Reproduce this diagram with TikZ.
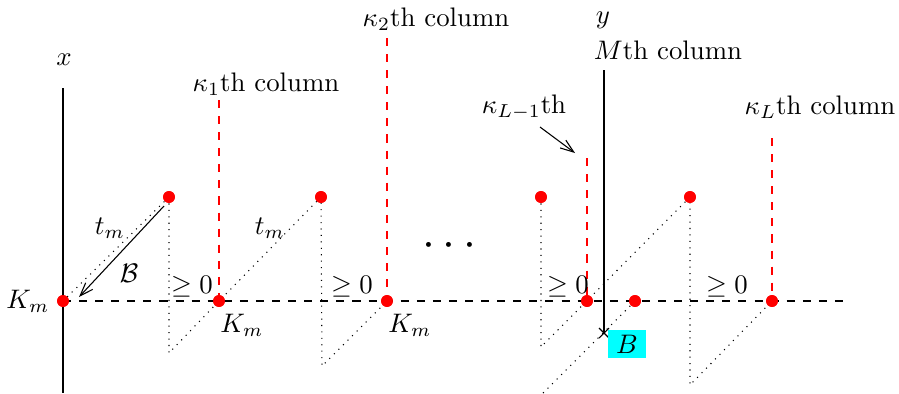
\documentclass[tikz,border=0pt]{standalone}
\usepackage{amsmath}
\usetikzlibrary{arrows.meta}
\definecolor{boxcyan}{RGB}{0,255,255}
\definecolor{dotred}{RGB}{255,0,0}
\begin{document}
\begin{tikzpicture}[x=0.3731pt,y=-0.3731pt,
  reddot/.style={circle,fill=dotred,inner sep=0pt,minimum size=4.4pt},
  lbl/.style={inner sep=0pt},
  colline/.style={dotred,dashed},
  aux/.style={dotted},
  arr/.style={-{Straight Barb[length=5pt,width=3.6pt]}}]
\useasboundingbox (0,0) rectangle (899,393);
% key points
\coordinate (xtop) at (63,88);
\coordinate (xbot) at (63,393);
\coordinate (hend) at (848,301);
\coordinate (Q1) at (169,353);
\coordinate (Q2) at (322,366);
\coordinate (Q3) at (541,347);
\coordinate (Q4) at (690,385);
\coordinate (S) at (543,393);
\coordinate (ytop) at (604,70);
\coordinate (B) at (604,333);
\coordinate (c1) at (219,100);
\coordinate (c2) at (387,38);
\coordinate (c3) at (587,158);
\coordinate (c4) at (772,138);
\coordinate (a1) at (540,127);
\coordinate (a2) at (575,153);
\coordinate (b1) at (164,206);
\coordinate (b2) at (79,297);
% red dots
\node[reddot] (K0) at (63,301) {};
\node[reddot] (K1) at (219,301) {};
\node[reddot] (K2) at (387,301) {};
\node[reddot] (K3) at (587,301) {};
\node[reddot] (K4) at (772,301) {};
\node[reddot] (R) at (635,301) {};
\node[reddot] (P1) at (169,197) {};
\node[reddot] (P2) at (321,197) {};
\node[reddot] (P3) at (541,197) {};
\node[reddot] (P4) at (690,197) {};
% lines
\draw (xtop) -- (xbot);
\draw[dashed] (K0.center) -- (hend);
\draw (ytop) -- (B);
\draw (B) +(-5,-5) -- +(5,5) (B) +(-5,5) -- +(5,-5);
\draw[colline] (c1) -- (K1.center);
\draw[colline] (c2) -- (K2.center);
\draw[colline] (c3) -- (K3.center);
\draw[colline] (c4) -- (K4.center);
\draw[aux] (P1.center) -- (K0.center);
\draw[aux] (P1.center) -- (Q1) -- (K1.center) -- (P2.center) -- (Q2) -- (K2.center);
\draw[aux] (P3.center) -- (Q3) -- (P4.center) -- (Q4) -- (K4.center);
\draw[aux] (S) -- (R.center);
\draw[arr] (b1) -- (b2);
\draw[arr] (a1) -- (a2);
% dots on top of the lines
\foreach \n in {K0,K1,K2,K3,K4,R,P1,P2,P3,P4}
  \fill[dotred] (\n) circle[radius=2.2pt];
% labels
\node[lbl] (lx) at (64,60) {$x$};
\node[lbl] (lK0) at (28,301) {$K_m$};
\node[lbl] (lK1) at (242,325) {$K_m$};
\node[lbl] (lK2) at (410,325) {$K_m$};
\node[lbl] (lc1) at (266,84) {$\kappa_1$th column};
\node[lbl] (lc2) at (436,19) {$\kappa_2$th column};
\node[lbl] (lc3) at (524,107) {$\kappa_{L-1}$th};
\node[lbl] (lc4) at (820,107) {$\kappa_L$th column};
\node[lbl] (ly) at (603,20) {$y$};
\node[lbl] (lM) at (668,50) {$M$th column};
\node[lbl] (t1) at (110,228) {$t_m$};
\node[lbl] (t2) at (270,228) {$t_m$};
\node[lbl] (lB) at (129,273) {$\mathcal{B}$};
\node[lbl] (g1) at (192,287) {$\geq 0$};
\node[lbl] (g2) at (352,287) {$\geq 0$};
\node[lbl] (g3) at (568,287) {$\geq 0$};
\node[lbl] (g4) at (727,287) {$\geq 0$};
\node[lbl] (dots) at (453,246) {\LARGE$\cdots$};
\node[fill=boxcyan,inner sep=0pt,minimum width=14pt,minimum height=10.4pt] (Bl) at (627,344) {$B$};
\end{tikzpicture}
\end{document}
